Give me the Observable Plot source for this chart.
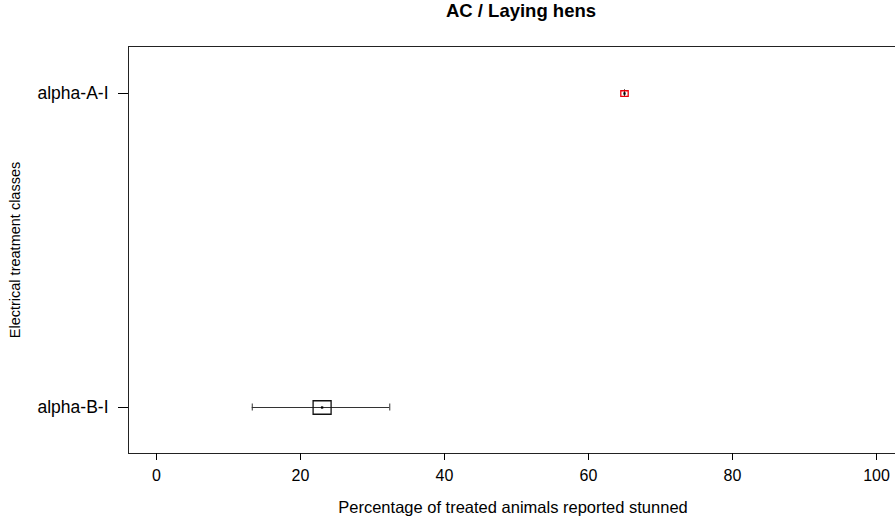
<!DOCTYPE html>
<html><head><meta charset="utf-8">
<script src="https://cdn.jsdelivr.net/npm/d3@7"></script>
<script src="https://cdn.jsdelivr.net/npm/@observablehq/plot@0.6"></script>
<style>
html,body{margin:0;padding:0;background:#fff;overflow:hidden;}
#title{height:30px;line-height:26px;font:bold 18.5px "Liberation Sans",Arial,sans-serif;text-align:center;padding-left:147px;width:748px;color:#000;}
</style></head><body>
<div id="title">AC / Laying hens</div>
<div id="chart"></div>
<script>
const classes = ["alpha-A-I", "alpha-B-I"];
const pct = [65, 23];
const lower = [65, 13.3];
const upper = [65, 32.4];
const xTicks = [0, 20, 40, 60, 80, 100];
const xLabel = "Percentage of treated animals reported stunned";
const yLabel = "Electrical treatment classes";

const data = classes.map((c, i) => ({cls: c, pct: pct[i], lo: lower[i], hi: upper[i]}));

const boxSymbol = {
  draw(context, size) {
    const r = Math.sqrt(size / Math.PI);
    const h = r * 0.75;
    context.moveTo(-r, -h);
    context.lineTo(r, -h);
    context.lineTo(r, h);
    context.lineTo(-r, h);
    context.closePath();
  }
};

const chart = Plot.plot({
  width: 895,
  height: 493,
  marginLeft: 128,
  marginRight: -2,
  marginTop: 16,
  marginBottom: 70,
  style: {fontFamily: '"Liberation Sans", Arial, sans-serif', fontSize: "16px", color: "#000", background: "#fff", overflow: "hidden"},
  x: {domain: [0, 100], range: [156, 876]},
  y: {type: "point", domain: classes, range: [63, 377], padding: 0},
  r: {type: "identity"},
  marks: [
    Plot.frame({stroke: "#222"}),
    Plot.axisX({ticks: xTicks, tickSize: 7, tickPadding: 9, tickFormat: d => String(d), fontSize: 16, label: null}),
    Plot.axisY({tickSize: 10, tickPadding: 10, fontSize: 17.5, label: null}),
    Plot.ruleY(data, {y: "cls", x1: "lo", x2: "hi", stroke: "#333"}),
    Plot.ruleX(data, {x: "lo", y1: "cls", y2: "cls", insetTop: -3.5, insetBottom: -3.5, stroke: "#333"}),
    Plot.ruleX(data, {x: "hi", y1: "cls", y2: "cls", insetTop: -3.5, insetBottom: -3.5, stroke: "#333"}),
    Plot.dot(data, {x: "pct", y: "cls", symbol: boxSymbol, r: (d, i) => i === 0 ? 3.7 : 9, stroke: (d, i) => i === 0 ? "#e8000b" : "#111", strokeWidth: 1.3, fill: "none"}),
    Plot.dot(data, {x: "pct", y: "cls", symbol: "square", r: 1.3, fill: "#000", stroke: "none"}),
    Plot.text([yLabel], {text: d => d, frameAnchor: "left", textAnchor: "middle", dx: -113, rotate: -90, fontSize: 14.5, fill: "#000"}),
    Plot.text([xLabel], {text: d => d, frameAnchor: "bottom", dy: 59, fontSize: 16.5, fill: "#000"})
  ]
});
document.getElementById("chart").appendChild(chart);
</script>
</body></html>
